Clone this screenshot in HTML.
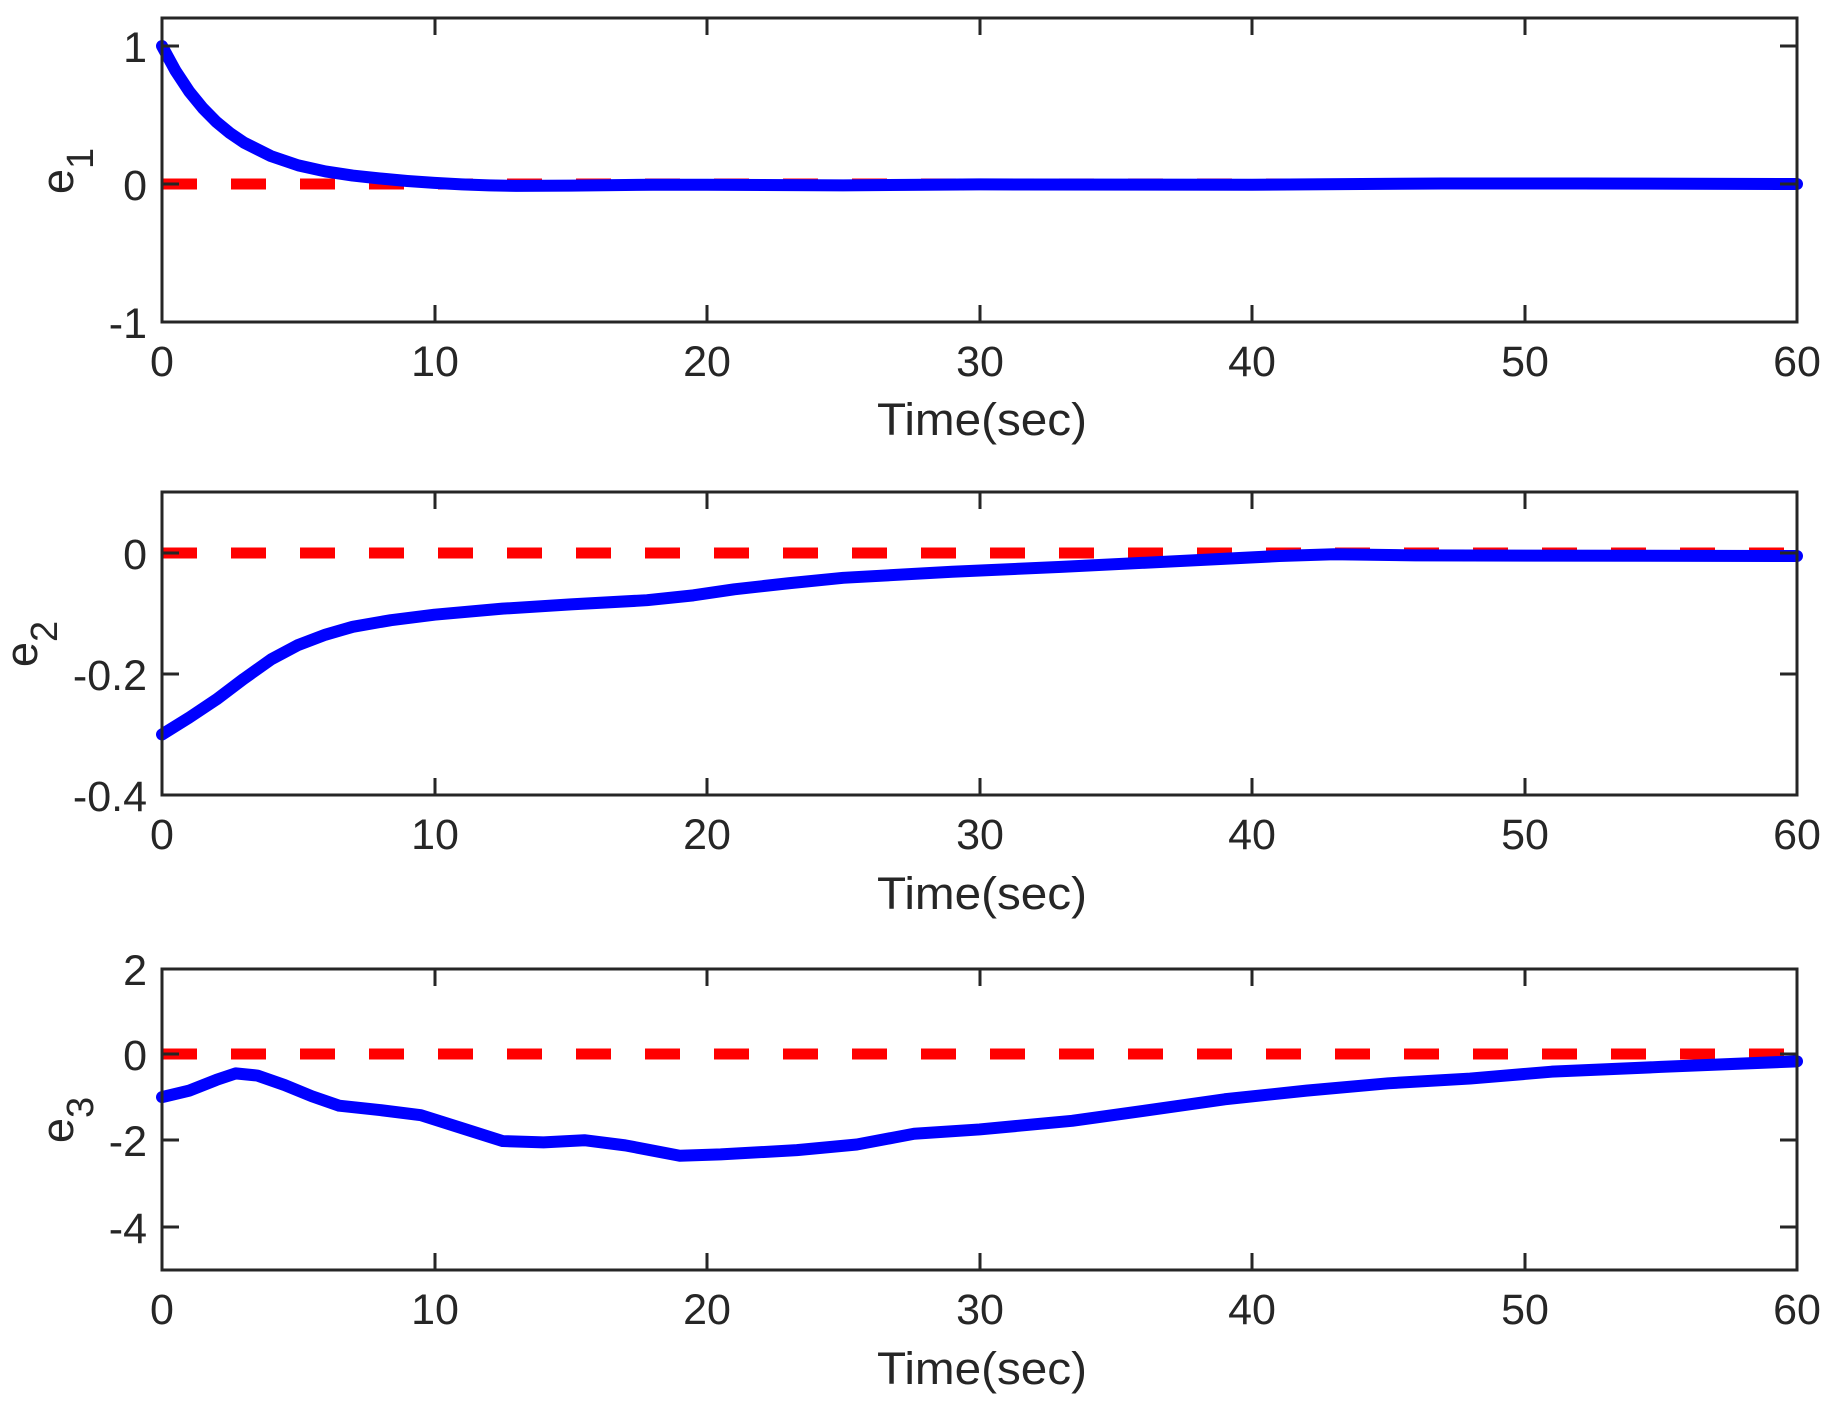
<!DOCTYPE html>
<html><head><meta charset="utf-8"><style>
html,body{margin:0;padding:0;background:#fff;}
svg{display:block;}
text{font-family:"Liberation Sans",Arial,sans-serif;fill:#262626;}
.t{font-size:43px;}
.x{font-size:45px;}
</style></head><body>
<svg width="1836" height="1413" viewBox="0 0 1836 1413" xmlns="http://www.w3.org/2000/svg">
<!-- Panel 1 -->
<g>
  <line x1="162" y1="184" x2="1797" y2="184" stroke="#ff0000" stroke-width="11" stroke-dasharray="35 34"/>
  <g transform="translate(162,184) scale(27.25,-138)">
    <polyline fill="none" stroke="#0000ff" stroke-width="12" stroke-linejoin="round" stroke-linecap="round" vector-effect="non-scaling-stroke"
      points="0,1 0.5,0.819 1,0.67 1.5,0.549 2,0.449 2.5,0.368 3,0.301 4,0.202 5,0.135 6,0.091 7,0.061 8,0.04 9,0.022 10,0.008 11,-0.003 12,-0.01 13,-0.014 15,-0.012 18,-0.005 20,-0.005 25,-0.01 30,-0.003 40,-0.005 47,0.004 52,0.004 60,0"/>
  </g>
  <rect x="162" y="18" width="1635" height="304" fill="none" stroke="#262626" stroke-width="3"/>
  <g stroke="#262626" stroke-width="3">
    <line x1="162" y1="46" x2="179" y2="46"/><line x1="162" y1="184" x2="179" y2="184"/>
    <line x1="1797" y1="46" x2="1780" y2="46"/><line x1="1797" y1="184" x2="1780" y2="184"/>
    <line x1="435" y1="322" x2="435" y2="305"/><line x1="707" y1="322" x2="707" y2="305"/><line x1="980" y1="322" x2="980" y2="305"/><line x1="1252" y1="322" x2="1252" y2="305"/><line x1="1525" y1="322" x2="1525" y2="305"/>
    <line x1="435" y1="18" x2="435" y2="35"/><line x1="707" y1="18" x2="707" y2="35"/><line x1="980" y1="18" x2="980" y2="35"/><line x1="1252" y1="18" x2="1252" y2="35"/><line x1="1525" y1="18" x2="1525" y2="35"/>
  </g>
  <g class="t" text-anchor="end">
    <text x="147" y="62">1</text><text x="147" y="200">0</text><text x="147" y="338">-1</text>
  </g>
  <g class="t" text-anchor="middle">
    <text x="162" y="376">0</text><text x="435" y="376">10</text><text x="707" y="376">20</text><text x="980" y="376">30</text><text x="1252" y="376">40</text><text x="1525" y="376">50</text><text x="1797" y="376">60</text>
  </g>
  <text class="x" x="877" y="435" textLength="210" lengthAdjust="spacingAndGlyphs">Time(sec)</text>
  <text class="x" transform="translate(73,194) rotate(-90)">e<tspan font-size="38" dy="20">1</tspan></text>
</g>
<!-- Panel 2 -->
<g>
  <line x1="162" y1="553" x2="1797" y2="553" stroke="#ff0000" stroke-width="11" stroke-dasharray="35 34"/>
  <g transform="translate(162,553) scale(27.25,-605)">
    <polyline fill="none" stroke="#0000ff" stroke-width="12" stroke-linejoin="round" stroke-linecap="round" vector-effect="non-scaling-stroke"
      points="0,-0.3 1,-0.272 2,-0.242 3,-0.208 4,-0.176 5,-0.152 6,-0.135 7,-0.122 8.4,-0.111 10,-0.102 12.5,-0.092 15,-0.085 17.8,-0.078 19.5,-0.07 21,-0.06 23,-0.05 25,-0.041 29,-0.031 33,-0.023 37,-0.014 41,-0.005 43,-0.002 46,-0.004 60,-0.005"/>
  </g>
  <rect x="162" y="492" width="1635" height="303" fill="none" stroke="#262626" stroke-width="3"/>
  <g stroke="#262626" stroke-width="3">
    <line x1="162" y1="553" x2="179" y2="553"/><line x1="162" y1="674" x2="179" y2="674"/>
    <line x1="1797" y1="553" x2="1780" y2="553"/><line x1="1797" y1="674" x2="1780" y2="674"/>
    <line x1="435" y1="795" x2="435" y2="778"/><line x1="707" y1="795" x2="707" y2="778"/><line x1="980" y1="795" x2="980" y2="778"/><line x1="1252" y1="795" x2="1252" y2="778"/><line x1="1525" y1="795" x2="1525" y2="778"/>
    <line x1="435" y1="492" x2="435" y2="509"/><line x1="707" y1="492" x2="707" y2="509"/><line x1="980" y1="492" x2="980" y2="509"/><line x1="1252" y1="492" x2="1252" y2="509"/><line x1="1525" y1="492" x2="1525" y2="509"/>
  </g>
  <g class="t" text-anchor="end">
    <text x="147" y="569">0</text><text x="147" y="690">-0.2</text><text x="147" y="811">-0.4</text>
  </g>
  <g class="t" text-anchor="middle">
    <text x="162" y="849">0</text><text x="435" y="849">10</text><text x="707" y="849">20</text><text x="980" y="849">30</text><text x="1252" y="849">40</text><text x="1525" y="849">50</text><text x="1797" y="849">60</text>
  </g>
  <text class="x" x="877" y="909" textLength="210" lengthAdjust="spacingAndGlyphs">Time(sec)</text>
  <text class="x" transform="translate(37,667) rotate(-90)">e<tspan font-size="38" dy="20">2</tspan></text>
</g>
<!-- Panel 3 -->
<g>
  <line x1="162" y1="1054" x2="1797" y2="1054" stroke="#ff0000" stroke-width="11" stroke-dasharray="35 34"/>
  <g transform="translate(162,1054) scale(27.25,-43.1)">
    <polyline fill="none" stroke="#0000ff" stroke-width="12" stroke-linejoin="round" stroke-linecap="round" vector-effect="non-scaling-stroke"
      points="0,-1 1,-0.85 2,-0.6 2.7,-0.45 3.5,-0.5 4.5,-0.72 5.5,-0.98 6.5,-1.2 8,-1.3 9.5,-1.42 11,-1.72 12.5,-2.02 14,-2.05 15.5,-2.0 17,-2.12 19,-2.36 20.5,-2.33 23.3,-2.23 25.5,-2.1 27.6,-1.85 30,-1.75 33.4,-1.55 36,-1.32 39,-1.05 42,-0.85 45,-0.68 48,-0.57 51,-0.41 55,-0.3 60,-0.17"/>
  </g>
  <rect x="162" y="969" width="1635" height="301" fill="none" stroke="#262626" stroke-width="3"/>
  <g stroke="#262626" stroke-width="3">
    <line x1="162" y1="1054" x2="179" y2="1054"/><line x1="162" y1="1140" x2="179" y2="1140"/><line x1="162" y1="1227" x2="179" y2="1227"/>
    <line x1="1797" y1="1054" x2="1780" y2="1054"/><line x1="1797" y1="1140" x2="1780" y2="1140"/><line x1="1797" y1="1227" x2="1780" y2="1227"/>
    <line x1="435" y1="1270" x2="435" y2="1253"/><line x1="707" y1="1270" x2="707" y2="1253"/><line x1="980" y1="1270" x2="980" y2="1253"/><line x1="1252" y1="1270" x2="1252" y2="1253"/><line x1="1525" y1="1270" x2="1525" y2="1253"/>
    <line x1="435" y1="969" x2="435" y2="986"/><line x1="707" y1="969" x2="707" y2="986"/><line x1="980" y1="969" x2="980" y2="986"/><line x1="1252" y1="969" x2="1252" y2="986"/><line x1="1525" y1="969" x2="1525" y2="986"/>
  </g>
  <g class="t" text-anchor="end">
    <text x="147" y="985">2</text><text x="147" y="1070">0</text><text x="147" y="1156">-2</text><text x="147" y="1243">-4</text>
  </g>
  <g class="t" text-anchor="middle">
    <text x="162" y="1324">0</text><text x="435" y="1324">10</text><text x="707" y="1324">20</text><text x="980" y="1324">30</text><text x="1252" y="1324">40</text><text x="1525" y="1324">50</text><text x="1797" y="1324">60</text>
  </g>
  <text class="x" x="877" y="1384" textLength="210" lengthAdjust="spacingAndGlyphs">Time(sec)</text>
  <text class="x" transform="translate(73,1143) rotate(-90)">e<tspan font-size="38" dy="20">3</tspan></text>
</g>
</svg>
</body></html>
